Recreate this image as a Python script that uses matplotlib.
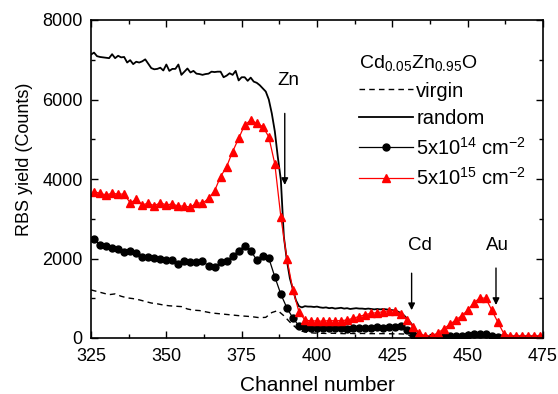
import numpy as np
import matplotlib
matplotlib.use("Agg")
import matplotlib.pyplot as plt
from matplotlib.ticker import MultipleLocator

plt.rcParams['font.family'] = ['Liberation Sans', 'DejaVu Sans']
plt.rcParams['mathtext.fontset'] = 'custom'
plt.rcParams['mathtext.rm'] = 'Liberation Sans'
plt.rcParams['mathtext.it'] = 'Liberation Sans'
plt.rcParams['mathtext.default'] = 'regular'

# ---------------- data ----------------
random_start = 325
random_counts = [
    7130, 7180, 7090, 7070, 7060, 7050, 7040, 7140, 7040, 7100,
    7060, 7070, 6930, 6990, 6890, 6950, 6930, 6960, 7010, 6900,
    6790, 6760, 6770, 6800, 6730, 6880, 6720, 6770, 6770, 6880,
    6620, 6700, 6780, 6680, 6720, 6650, 6640, 6620, 6640, 6650,
    6700, 6690, 6700, 6700, 6560, 6600, 6660, 6620, 6720, 6480,
    6560, 6560, 6470, 6550, 6450, 6420, 6360, 6280, 6200, 6000,
    5650, 5200, 4550, 3980, 2550, 1950, 1500, 1230, 950, 800,
    770, 800, 790, 790, 780, 790, 770, 760, 770, 750,
    760, 740, 750, 760, 740, 750, 730, 740, 750, 740,
    740, 730, 740, 730, 720, 730, 720, 730, 720, 710,
    700, 690, 660, 620, 560, 480, 390, 290, 180, 90,
    30, 0, 0, 0, 0, 0, 0, 0, 0, 0,
    0, 0, 0, 0, 0, 0, 0, 0, 0, 0,
    0, 0, 0, 0, 0, 0, 0, 0, 0, 0,
    0, 0, 0, 0, 0, 0, 0, 0, 0, 0,
    0,
]

virgin_start = 325
virgin_counts = [
    1210, 1170, 1130, 1090, 1110, 1050, 1010, 990, 960, 920,
    880, 860, 830, 810, 800, 790, 730, 700, 690, 660,
    630, 615, 600, 585, 570, 555, 545, 530, 510, 520,
    640, 690, 560, 400, 260, 170, 140, 125, 120, 115,
    120, 115, 110, 115, 110, 115, 110, 110, 110, 110,
    105, 105, 100, 60, 10, 0,
]

dose14_start = 326
dose14_counts = [
    2480, 2340, 2320, 2270, 2240, 2170, 2200, 2130, 2030, 2050,
    2020, 2000, 1960, 1950, 1860, 1940, 1900, 1900, 1940, 1810,
    1780, 1900, 1940, 2060, 2200, 2320, 2200, 1960, 2060, 2010,
    1540, 1100, 760, 500, 310, 260, 250, 250, 240, 260,
    240, 250, 230, 250, 240, 260, 250, 270, 260, 270,
    280, 290, 200, 70, 20, 10, 20, 20, 30, 40,
    50, 60, 80, 110, 110, 90, 60, 30, 15, 10,
    10, 10, 10, 10, 10,
]

dose15_start = 326
dose15_counts = [
    3680, 3640, 3600, 3640, 3620, 3620, 3400, 3490, 3350, 3390,
    3330, 3400, 3350, 3370, 3320, 3320, 3290, 3400, 3390, 3510,
    3700, 4060, 4310, 4690, 5020, 5360, 5480, 5400, 5320, 5060,
    4380, 3050, 2000, 1210, 660, 450, 430, 430, 420, 440,
    430, 440, 450, 500, 540, 590, 620, 640, 660, 690,
    680, 600, 450, 270, 120, 50, 60, 120, 230, 340,
    450, 560, 700, 880, 1010, 1000, 700, 400, 110, 50,
    50, 50, 50, 50, 50,
]

legend_title = 'Cd$_{0.05}$Zn$_{0.95}$O'
labels = ['virgin', 'random', '5x10$^{14}$ cm$^{-2}$', '5x10$^{15}$ cm$^{-2}$']

# annotations: (text, text_x, text_y, arrow_x, arrow_top, arrow_bottom)
annotations = [
    ('Zn', 390.5, 6490, 389.3, 5650, 3850),
    ('Cd', 434.0, 2330, 431.4, 1630, 700),
    ('Au', 459.8, 2330, 459.4, 1760, 830),
]

ch_random = np.arange(random_start, random_start + len(random_counts))
ch_virgin = np.arange(virgin_start, virgin_start + 2 * len(virgin_counts), 2)
ch_14 = np.arange(dose14_start, dose14_start + 2 * len(dose14_counts), 2)
ch_15 = np.arange(dose15_start, dose15_start + 2 * len(dose15_counts), 2)

# ---------------- figure ----------------
fig = plt.figure(figsize=(5.58, 3.94), dpi=100)
ax = fig.add_axes([91/558, 1 - 338/394, 452/558, 318/394])

ax.plot(ch_virgin, virgin_counts, color='black', lw=1.0, ls=(0, (4, 3)), label=labels[0])
ax.plot(ch_random, random_counts, color='black', lw=1.3, label=labels[1])
ax.plot(ch_14, dose14_counts, color='black', lw=0.9, marker='o', ms=5.0,
        label=labels[2])
ax.plot(ch_15, dose15_counts, color='red', lw=0.9, marker='^', ms=6.0,
        label=labels[3])

for txt, tx, ty, axx, atop, abot in annotations:
    ax.text(tx, ty, txt, ha='center', va='center', fontsize=13.5)
    ax.annotate('', xy=(axx, abot), xytext=(axx, atop),
                arrowprops=dict(arrowstyle='-|>', color='black', lw=1.0,
                                mutation_scale=10, shrinkA=0, shrinkB=0))

ax.set_xlim(325, 475)
ax.set_ylim(0, 8000)
ax.xaxis.set_major_locator(MultipleLocator(25))
ax.xaxis.set_minor_locator(MultipleLocator(12.5))
ax.yaxis.set_major_locator(MultipleLocator(2000))
ax.yaxis.set_minor_locator(MultipleLocator(1000))
ax.tick_params(which='both', direction='in', top=True, right=True, labelsize=13,
               width=1.0)
ax.tick_params(which='major', length=5)
ax.tick_params(axis='x', which='major', pad=7)
ax.tick_params(axis='y', which='major', pad=6)
ax.tick_params(which='minor', length=3)
for s in ax.spines.values():
    s.set_linewidth(1.2)

ax.set_xlabel('Channel number', fontsize=15)
ax.set_ylabel('RBS yield (Counts)', fontsize=13)
ax.xaxis.set_label_coords(0.5, -0.118)
ax.yaxis.set_label_coords(-0.128, 0.563)

leg = ax.legend(title=legend_title, loc='upper left', bbox_to_anchor=(0.593, 0.896),
                frameon=False, fontsize=14.5, title_fontsize=14, handlelength=2.7,
                handletextpad=0.15, labelspacing=0.42, borderpad=0, borderaxespad=0,
                numpoints=1, alignment='left')

fig.savefig('out.png', dpi=100)
